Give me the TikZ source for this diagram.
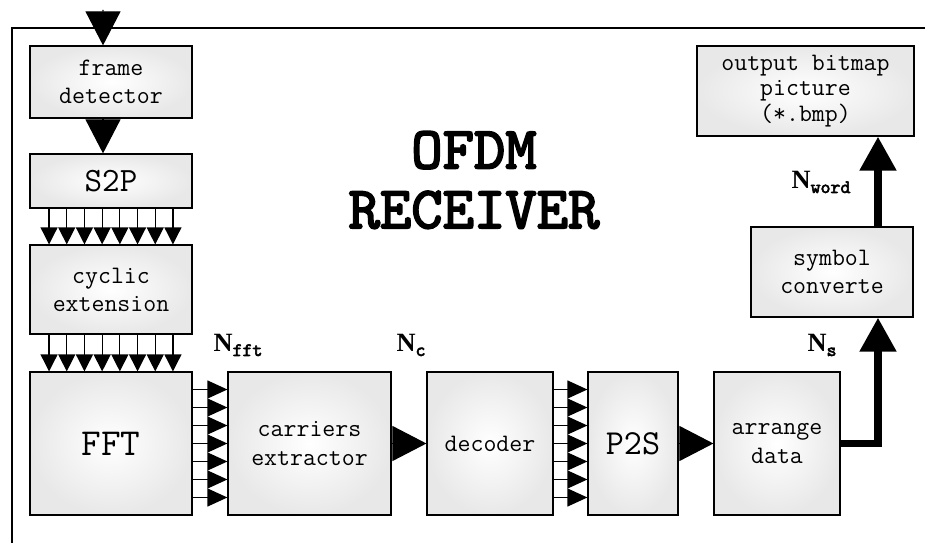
\documentclass[tikz,border=0pt]{standalone}
\usepackage{fontspec}
\newfontfamily\tms{Liberation Serif}
\newfontfamily\courb{lmmono10-regular.otf}[FakeBold=3]
\usetikzlibrary{arrows.meta}
\newcommand{\Nlab}[1]{N\raisebox{-0.4ex}{\courb\fontsize{10.8}{11}\selectfont #1}}

\begin{document}
\begin{tikzpicture}[x=0.02cm,y=-0.02cm,
 blk/.style={draw,line width=0.7pt,inner color=white,outer color=black!9,align=center,
   font=\ttfamily\fontsize{14.3}{16}\selectfont,minimum width=3.24cm},
 big/.style={line width=0.6pt,-{Triangle[width=0.7cm,length=0.68cm]}},
 vpar/.style={line width=0.7pt,-{Triangle[width=0.34cm,length=0.34cm]}},
 hpar/.style={line width=0.7pt,-{Triangle[width=0.36cm,length=0.4cm]}},
 fat/.style={line width=4.5pt,line join=miter,-{Triangle[width=0.7cm,length=0.68cm]}},
 lab/.style={font=\tms\bfseries\fontsize{15}{15}\selectfont}]
\useasboundingbox (0,0) rectangle (925,546);
% frame round the receiver
\draw[line width=0.7pt] (925,28) -- (12,28) -- (12,543);
\coordinate (in) at (103,10);
% left column
\node[blk,minimum height=1.44cm] (det) at (111,82) {frame\\detector};
\node[blk,minimum height=1.08cm,font=\ttfamily\fontsize{19.4}{20}\selectfont] (s2p) at (111,181) {S2P};
\node[blk,minimum height=1.78cm] (cyc) at (111,289.5) {cyclic\\extension};
\node[blk,minimum height=2.86cm,font=\ttfamily\fontsize{21.7}{22}\selectfont] (fft) at (111,443.5) {FFT};
% bottom row
\node[blk,minimum height=2.86cm,minimum width=3.26cm] (car) at (309.5,443.5) {carriers\\extractor};
\node[blk,minimum height=2.86cm,minimum width=2.52cm] (dec) at (490,443.5) {decoder};
\node[blk,minimum height=2.86cm,minimum width=1.8cm,font=\ttfamily\fontsize{20}{20}\selectfont] (p2s) at (633,443.5) {P2S};
\node[blk,minimum height=2.86cm,minimum width=2.52cm] (arr) at (777,443.5) {arrange\\data};
% right column
\node[blk,minimum height=1.8cm] (sym) at (832,272) {symbol\\converte};
\node[blk,minimum height=1.8cm,minimum width=4.34cm,font=\ttfamily\fontsize{14.3}{14.5}\selectfont] (out) at (805.5,91) {output bitmap\\picture\\(*.bmp)};
% title and labels
\node[font=\courb\fontsize{34}{34}\selectfont,align=center] (title) at (474,180) {OFDM\\RECEIVER};
\node[lab] (nfft) at (238,345) {\Nlab{fft}};
\node[lab] (nc) at (411,345) {\Nlab{c}};
\node[lab] (ns) at (822,345) {\Nlab{s}};
\node[lab] (nword) at (821,182) {\Nlab{word}};
% connections
\draw[big] (in) -- ([xshift=-0.16cm]det.north);
\draw[big] ([xshift=-0.16cm]det.south) -- ([xshift=-0.16cm]s2p.north);
\foreach \k in {-3.5,-2.5,...,3.5} {
  \draw[vpar] ([xshift=\k*0.354cm]s2p.south) -- ([xshift=\k*0.354cm]cyc.north);
  \draw[vpar] ([xshift=\k*0.354cm]cyc.south) -- ([xshift=\k*0.354cm]fft.north);
}
\foreach \k in {-3,...,3} {
  \draw[hpar] ([yshift=\k*0.36cm]fft.east) -- ([yshift=\k*0.36cm]car.west);
  \draw[hpar] ([yshift=\k*0.36cm]dec.east) -- ([yshift=\k*0.36cm]p2s.west);
}
\draw[big] (car.east) -- (dec.west);
\draw[big] (p2s.east) -- (arr.west);
\draw[fat] (arr.east) -| ([xshift=0.92cm]sym.south);
\draw[fat] ([xshift=0.92cm]sym.north) -- ([xshift=0.92cm]sym.north |- out.south);
\end{tikzpicture}
\end{document}
